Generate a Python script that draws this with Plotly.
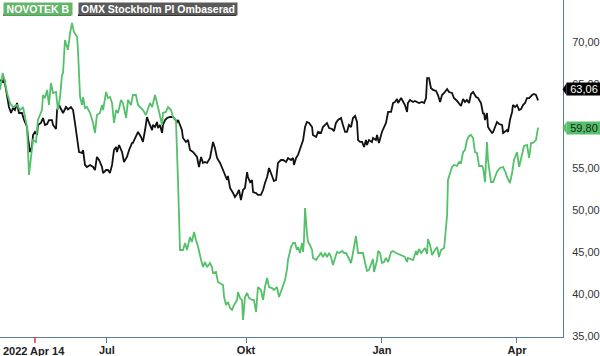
import plotly.graph_objects as go

# Trading-day index (0 = 2022 Apr 14) and closing values
novotek_x = [0.0, 1.3, 2.3, 3.3, 4.7, 6.1, 8.0, 9.4, 10.8, 11.7, 12.7, 13.6, 15.0, 15.5, 16.9, 17.8, 19.7, 20.2, 21.1, 22.1,
             23.0, 23.9, 24.9, 26.3, 27.2, 28.2, 29.1, 29.6, 30.5, 31.5, 31.9, 32.9, 33.8, 34.7, 36.2, 36.6, 37.6, 38.5, 39.0, 39.9,
             40.8, 42.3, 43.7, 44.6, 45.5, 46.9, 47.9, 48.4, 49.8, 50.7, 51.6, 52.6, 53.5, 54.5, 55.4, 56.8, 57.7, 59.2, 60.1, 61.5,
             62.4, 63.8, 64.8, 66.2, 67.1, 68.5, 69.5, 70.4, 71.4, 72.8, 73.7, 74.6, 76.1, 76.5, 77.9, 78.9, 80.3, 81.2, 82.6, 83.6,
             84.5, 85.9, 86.9, 87.8, 89.2, 90.1, 91.1, 92.0, 93.0, 94.4, 95.3, 96.2, 97.2, 98.6, 99.5, 100.0, 101.4, 102.3, 104.7, 105.2,
             106.1, 107.0, 108.0, 108.9, 109.9, 111.3, 111.7, 112.7, 113.6, 114.1, 115.0, 116.0, 116.9, 118.3, 119.2, 120.2, 121.1, 122.5, 123.5, 124.4,
             125.4, 126.3, 127.7, 128.6, 130.0, 131.0, 132.4, 133.8, 134.7, 135.2, 136.6, 137.6, 138.5, 139.4, 139.9, 140.8, 141.8, 142.3, 142.7, 143.2,
             144.1, 144.6, 145.5, 146.5, 146.9, 148.4, 149.3, 150.7, 151.6, 152.6, 153.5, 154.5, 155.4, 156.3, 157.3, 158.2, 159.2, 160.6, 161.5, 162.4,
             163.4, 164.8, 165.7, 166.2, 167.1, 168.1, 169.5, 170.4, 171.4, 172.3, 173.2, 174.2, 175.1, 175.6, 177.0, 177.5, 178.4, 179.3, 180.3, 181.2,
             182.2, 183.6, 184.5, 185.9, 187.3, 189.2, 190.1, 191.1, 191.5, 193.0, 193.9, 194.4, 195.3, 195.8, 196.7, 197.7, 198.6, 199.5, 200.5, 200.9,
             201.9, 202.8, 204.2, 205.2, 206.1, 207.0, 208.5, 209.9, 210.3, 212.2, 213.1, 214.6, 215.5, 216.4, 217.4, 218.3, 219.2, 220.2, 221.1, 222.1,
             223.0, 223.9, 224.9, 226.3, 226.8, 227.7, 228.6, 229.1, 230.5, 231.5, 232.4, 233.3, 234.7, 236.2, 237.1, 238.0, 239.4, 240.4, 241.3, 242.7,
             243.7, 245.1, 246.0, 247.4, 248.4, 249.3, 250.2, 251.6, 252.6]
novotek_y = [64.29, 66.31, 65.24, 63.93, 62.74, 62.26, 62.50, 61.90, 62.26, 61.07, 59.88, 54.17, 57.14, 58.33, 58.10, 60.71, 61.90, 63.69, 63.33, 64.29,
             62.50, 65.12, 63.93, 64.05, 61.90, 63.45, 66.07, 66.31, 70.24, 69.40, 69.05, 71.07, 72.26, 71.19, 70.60, 69.05, 63.45, 62.50, 63.45, 62.14,
             62.26, 61.55, 60.36, 59.17, 61.31, 61.55, 62.50, 61.90, 64.05, 63.33, 63.45, 62.74, 60.36, 61.90, 61.55, 63.10, 62.74, 60.95, 63.10, 62.50,
             63.69, 63.69, 62.50, 62.14, 61.90, 61.31, 62.14, 62.74, 62.26, 63.69, 62.74, 61.67, 60.12, 61.55, 61.67, 62.26, 61.90, 61.07, 60.71, 53.21,
             45.24, 45.24, 46.07, 45.24, 46.79, 46.19, 47.38, 46.43, 45.60, 44.05, 43.21, 43.81, 43.21, 43.69, 43.21, 42.50, 42.62, 41.43, 41.07, 39.64,
             38.69, 39.05, 38.33, 38.10, 38.69, 39.29, 40.24, 39.52, 39.29, 36.90, 39.64, 40.12, 39.52, 39.29, 39.29, 37.86, 40.83, 40.48, 39.29, 40.83,
             41.90, 40.83, 40.71, 40.48, 40.83, 39.64, 40.71, 41.67, 42.86, 44.05, 45.60, 46.07, 46.07, 45.24, 45.60, 44.88, 46.07, 45.00, 46.43, 50.24,
             47.26, 46.19, 45.83, 45.24, 44.29, 44.05, 44.40, 44.88, 44.40, 44.88, 44.40, 44.88, 44.40, 43.45, 44.29, 45.00, 44.88, 45.12, 44.88, 44.88,
             44.40, 43.69, 44.88, 45.60, 46.90, 44.88, 44.88, 44.88, 43.69, 42.74, 42.86, 43.45, 44.17, 42.62, 44.05, 45.12, 44.88, 43.69, 43.81, 44.29,
             43.81, 45.00, 45.12, 44.88, 44.76, 44.52, 44.40, 43.81, 44.29, 44.17, 44.05, 44.40, 45.12, 44.64, 45.36, 44.88, 45.12, 45.48, 44.76, 46.55,
             45.83, 44.64, 45.24, 45.60, 44.40, 45.24, 45.48, 49.40, 53.57, 55.12, 55.36, 55.24, 55.71, 55.60, 56.90, 57.14, 58.33, 58.81, 58.93, 58.57,
             56.90, 56.79, 55.24, 55.24, 55.00, 53.33, 58.10, 55.95, 53.33, 53.33, 53.93, 54.52, 55.00, 55.12, 54.64, 53.93, 53.21, 54.40, 55.95, 56.90,
             55.12, 56.79, 57.62, 57.74, 56.19, 57.98, 57.98, 58.33, 59.80]

omx_x = [0.0, 1.4, 1.9, 2.8, 3.3, 4.2, 5.2, 6.1, 7.0, 8.0, 8.9, 10.3, 11.3, 12.7, 13.1, 14.1, 15.0, 15.5, 16.4, 17.4,
         17.8, 19.2, 20.2, 21.1, 22.1, 23.0, 24.4, 24.9, 26.3, 26.8, 27.7, 29.1, 29.6, 31.0, 31.9, 33.3, 34.3, 35.2, 36.2, 37.1,
         38.5, 39.0, 39.9, 40.8, 42.3, 43.7, 44.6, 45.5, 46.5, 47.9, 48.4, 49.8, 50.7, 51.6, 52.6, 53.5, 54.5, 54.9, 55.9, 57.3,
         58.2, 59.6, 60.6, 62.0, 62.4, 63.8, 64.8, 66.2, 67.1, 68.1, 69.0, 70.0, 71.4, 71.8, 72.8, 73.7, 74.2, 75.1, 76.1, 76.5,
         77.5, 78.4, 79.8, 81.2, 82.2, 83.1, 83.6, 84.5, 85.4, 85.9, 87.3, 88.3, 89.2, 90.6, 91.5, 92.5, 93.4, 94.4, 95.3, 96.2,
         97.2, 98.6, 100.0, 100.9, 101.9, 103.3, 104.7, 105.6, 106.6, 107.0, 108.0, 109.4, 110.3, 111.3, 112.2, 113.1, 114.1, 115.0, 116.0, 116.4,
         117.4, 118.3, 118.8, 120.2, 121.1, 122.5, 123.5, 124.4, 125.4, 126.3, 127.7, 128.6, 129.6, 130.5, 131.9, 132.9, 134.3, 135.2, 136.6, 137.6,
         138.0, 139.0, 139.9, 140.8, 141.8, 142.3, 143.2, 144.1, 145.1, 146.5, 146.9, 148.4, 149.3, 150.7, 151.6, 152.6, 153.5, 154.5, 155.9, 156.8,
         157.7, 158.7, 160.1, 161.0, 162.0, 162.9, 163.8, 164.8, 165.7, 166.7, 167.6, 168.1, 169.0, 170.0, 170.9, 171.8, 172.3, 173.2, 174.6, 175.1,
         176.5, 177.0, 177.9, 179.3, 180.3, 181.2, 182.2, 183.6, 184.5, 185.4, 186.4, 186.9, 188.3, 189.2, 190.1, 191.1, 191.5, 192.5, 193.9, 194.8,
         195.8, 196.7, 198.1, 199.1, 200.0, 200.5, 201.4, 202.3, 203.3, 204.7, 205.6, 206.6, 207.5, 208.5, 209.9, 210.8, 212.2, 213.1, 214.6, 215.5,
         216.4, 217.4, 218.3, 219.2, 220.2, 221.1, 222.1, 223.5, 224.4, 225.8, 226.8, 227.2, 227.7, 228.6, 229.1, 230.0, 231.0, 231.5, 232.4, 233.3,
         234.3, 235.7, 236.2, 237.1, 238.0, 238.5, 239.4, 240.4, 240.8, 241.8, 242.7, 243.7, 244.6, 245.5, 246.5, 247.4, 248.4, 249.8, 250.7, 251.6,
         252.6]
omx_y = [65.48, 65.24, 65.71, 64.29, 63.33, 62.26, 61.55, 62.14, 61.90, 62.74, 61.55, 61.55, 60.71, 59.88, 58.69, 56.90, 57.50, 58.93, 59.29, 58.93,
         60.12, 60.36, 60.95, 60.12, 60.24, 60.71, 60.71, 60.12, 59.64, 61.90, 62.50, 61.90, 61.55, 62.26, 61.98, 62.26, 61.90, 60.36, 58.69, 56.90,
         56.79, 57.14, 55.36, 55.12, 55.36, 55.12, 54.76, 56.31, 55.95, 55.12, 54.40, 54.76, 54.76, 54.40, 55.36, 57.14, 57.50, 56.90, 57.74, 56.90,
         55.71, 56.31, 57.14, 57.98, 57.98, 58.69, 59.29, 58.69, 58.10, 59.52, 61.07, 60.36, 59.52, 60.12, 59.88, 60.48, 59.76, 60.12, 59.17, 60.12,
         60.71, 60.95, 61.07, 61.07, 60.71, 60.48, 60.71, 60.12, 59.52, 58.57, 58.10, 58.33, 57.14, 56.90, 56.55, 56.31, 55.12, 56.31, 55.60, 55.71,
         55.60, 56.19, 58.10, 57.38, 56.19, 55.60, 54.76, 54.17, 53.57, 54.05, 52.62, 52.02, 51.55, 51.90, 52.38, 51.19, 52.38, 52.62, 54.52, 53.93,
         53.33, 53.57, 52.14, 52.02, 51.79, 51.79, 52.38, 53.21, 53.93, 55.00, 53.93, 53.45, 53.57, 55.60, 55.95, 55.95, 55.71, 56.19, 55.95, 56.19,
         55.36, 56.19, 56.55, 57.14, 57.98, 58.33, 59.88, 60.48, 60.36, 59.88, 58.93, 58.69, 59.29, 59.17, 59.88, 60.12, 60.36, 59.76, 59.64, 59.40,
         60.36, 60.71, 60.95, 60.12, 59.29, 59.29, 60.12, 59.88, 60.95, 61.19, 60.48, 58.33, 58.10, 58.10, 57.50, 58.33, 57.74, 58.33, 58.10, 58.57,
         58.33, 58.93, 57.98, 59.29, 59.88, 60.36, 61.67, 61.67, 62.74, 62.86, 63.21, 62.74, 63.33, 62.86, 62.50, 61.67, 62.74, 63.10, 62.86, 62.98,
         62.86, 62.74, 62.86, 62.74, 63.33, 65.71, 65.71, 64.52, 64.29, 64.17, 63.69, 62.86, 63.69, 63.93, 64.40, 64.05, 63.93, 63.33, 62.98, 62.74,
         62.38, 63.21, 62.86, 63.10, 62.74, 63.81, 64.05, 63.45, 63.33, 62.74, 61.43, 61.55, 60.71, 61.55, 59.88, 59.52, 59.17, 59.29, 59.88, 60.48,
         60.24, 60.12, 59.17, 59.40, 59.52, 59.29, 60.71, 61.67, 62.50, 62.26, 62.50, 61.90, 62.02, 62.50, 62.74, 63.33, 63.33, 63.69, 63.81, 63.69,
         63.06]

tick_pos = [50.2, 115.5, 179.3, 242.7]
tick_text = ["Jul", "Okt", "Jan", "Apr"]
y_ticks = [35, 40, 45, 50, 55, 60, 65, 70]
start_label = "2022 Apr 14"
marker_pos = 16.4

GREEN = "#55c06a"
BLACK = "#111111"
AXIS = "#5a7d96"
FONT = "Liberation Sans, Arial, sans-serif"

PLOT_W = 563.0
PLOT_H = 337.0

fig = go.Figure()
fig.add_trace(go.Scatter(x=omx_x, y=omx_y, mode="lines", line=dict(color=BLACK, width=1.8),
                         name="OMX Stockholm PI Ombaserad", hoverinfo="skip"))
fig.add_trace(go.Scatter(x=novotek_x, y=novotek_y, mode="lines", line=dict(color=GREEN, width=1.8),
                         name="NOVOTEK B", hoverinfo="skip"))

fig.update_layout(
    width=600, height=356,
    margin=dict(l=0, r=37, t=0, b=19, autoexpand=False),
    paper_bgcolor="white", plot_bgcolor="white",
    showlegend=False,
    separators=",.",
    font=dict(family=FONT, size=11, color="#333"),
)
fig.update_xaxes(range=[0, 264.3], showgrid=False, zeroline=False,
                 showline=True, linecolor=AXIS, linewidth=1,
                 tickmode="array", tickvals=tick_pos, ticktext=tick_text,
                 ticks="outside", ticklen=5, tickcolor=AXIS, ticklabelstandoff=-2,
                 tickfont=dict(family=FONT, size=11, color="#222", weight="bold"))
fig.update_yaxes(range=[34.88, 75], side="right", showgrid=False, zeroline=False,
                 showline=True, linecolor=AXIS, linewidth=1,
                 tickmode="array", tickvals=y_ticks, tickformat=".2f",
                 ticks="", ticklabelstandoff=6,
                 tickfont=dict(family=FONT, size=11, color="#333"))

# start date label and red marker tick
fig.add_annotation(x=0.002, xref="paper", y=-0.018, yref="paper", yanchor="top", xanchor="left",
                   text=start_label, showarrow=False,
                   font=dict(family=FONT, size=11, color="#222", weight="bold"))
fig.add_shape(type="line", xref="x", yref="paper", x0=marker_pos, x1=marker_pos, y0=0, y1=-6 / PLOT_H,
              line=dict(color="#e8363a", width=1.5))

# legend boxes
def legend_box(px_left, px_width, label, bg, edge):
    fig.add_annotation(x=px_left / PLOT_W, xref="paper", y=1 - 2 / PLOT_H, yref="paper",
                       xanchor="left", yanchor="top", width=px_width, height=12,
                       text=label, showarrow=False, bgcolor=bg, borderpad=0,
                       font=dict(family=FONT, size=10.5, color="white", weight="bold"))
    fig.add_shape(type="line", xref="paper", yref="paper",
                  x0=px_left / PLOT_W, x1=(px_left + px_width) / PLOT_W,
                  y0=1 - 15 / PLOT_H, y1=1 - 15 / PLOT_H, line=dict(color=edge, width=2))

legend_box(3, 68, "NOVOTEK B", "#64b46a", "#3e8e46")
legend_box(78, 158, "OMX Stockholm PI Ombaserad", "#5a5a5a", "#111111")

# last value tags with pointer
def value_tag(yval, label, bg, fg):
    fig.add_annotation(x=1 + 3 / PLOT_W, xref="paper", y=yval, yref="y", xanchor="left", yanchor="middle",
                       width=34, height=12, text=label, showarrow=False, bgcolor=bg, borderpad=0,
                       font=dict(family=FONT, size=11, color=fg))
    dy = 6 / 8.4
    x0 = 1 + 3.5 / PLOT_W
    fig.add_shape(type="path", xref="paper", yref="y",
                  path=f"M {1 - 0.5 / PLOT_W} {yval} L {x0} {yval + dy} L {x0} {yval - dy} Z",
                  fillcolor=bg, line=dict(width=0))

value_tag(omx_y[-1] + 1.3, f"{omx_y[-1]:.2f}".replace(".", ","), "#000000", "white")
value_tag(novotek_y[-1], f"{novotek_y[-1]:.2f}".replace(".", ","), GREEN, "#1a1a1a")

fig.write_html("out.html", config={"displayModeBar": False},
               post_script="document.body.style.margin='0';document.body.style.padding='0';")
